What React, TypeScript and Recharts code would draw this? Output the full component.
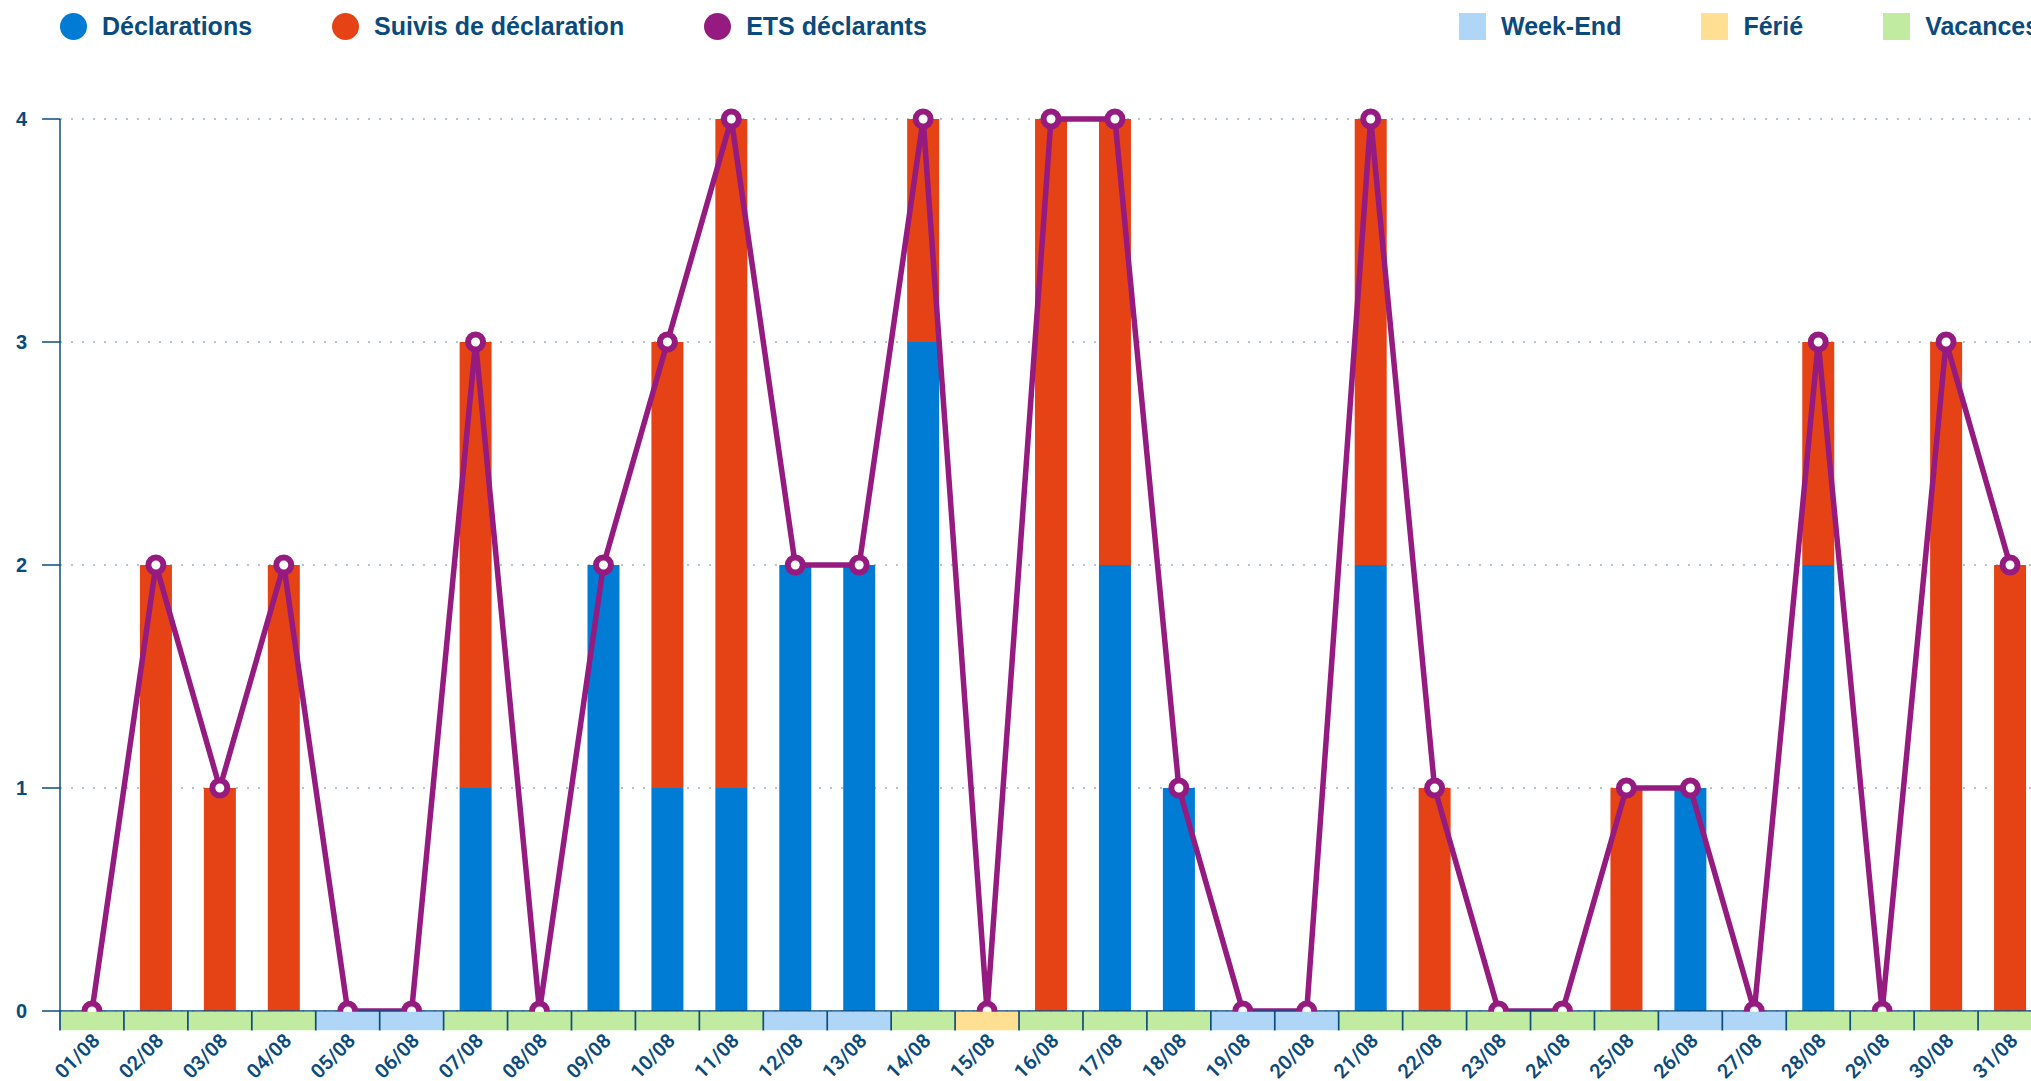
import React from 'react';
import { ComposedChart, Bar, Line, XAxis, YAxis, CartesianGrid, Legend } from 'recharts';

const DAYS = [
  '01/08', '02/08', '03/08', '04/08', '05/08', '06/08', '07/08', '08/08', '09/08', '10/08',
  '11/08', '12/08', '13/08', '14/08', '15/08', '16/08', '17/08', '18/08', '19/08', '20/08',
  '21/08', '22/08', '23/08', '24/08', '25/08', '26/08', '27/08', '28/08', '29/08', '30/08', '31/08',
];
const DECLARATIONS = [0, 0, 0, 0, 0, 0, 1, 0, 2, 1, 1, 2, 2, 3, 0, 0, 2, 1, 0, 0, 2, 0, 0, 0, 0, 1, 0, 2, 0, 0, 0];
const SUIVIS = [0, 2, 1, 2, 0, 0, 2, 0, 0, 2, 3, 0, 0, 1, 0, 4, 2, 0, 0, 0, 2, 1, 0, 0, 1, 0, 0, 1, 0, 3, 2];
const ETS = [0, 2, 1, 2, 0, 0, 3, 0, 2, 3, 4, 2, 2, 4, 0, 4, 4, 1, 0, 0, 4, 1, 0, 0, 1, 1, 0, 3, 0, 3, 2];
// V = Vacances, W = Week-End, F = Férié
const DAY_TYPES = ['V', 'V', 'V', 'V', 'W', 'W', 'V', 'V', 'V', 'V', 'V', 'W', 'W', 'V', 'F', 'V', 'V', 'V', 'W', 'W', 'V', 'V', 'V', 'V', 'V', 'W', 'W', 'V', 'V', 'V', 'V'];
const Y_TICKS = [0, 1, 2, 3, 4];

const BLUE = '#007cd5';
const RED = '#e54315';
const PURPLE = '#951b80';
const TEXT = '#0b4a7c';
const AXIS = '#0d4c7f';
const GRID = '#9db5c7';
const DAY_COLORS: Record<string, string> = { W: '#afd6f7', F: '#ffdf92', V: '#c0eba0' };

const SERIES_LEGEND = [
  { label: 'Déclarations', color: BLUE },
  { label: 'Suivis de déclaration', color: RED },
  { label: 'ETS déclarants', color: PURPLE },
];
const DAYTYPE_LEGEND = [
  { label: 'Week-End', color: DAY_COLORS.W },
  { label: 'Férié', color: DAY_COLORS.F },
  { label: 'Vacances', color: DAY_COLORS.V },
];

const FONT = "'Liberation Sans', Arial, sans-serif";
const CHART_W = 2042;
const CHART_H = 1081;
const Y_AXIS_W = 60;
const BAND = (CHART_W - Y_AXIS_W) / DAYS.length;

const data = DAYS.map((day, i) => ({
  day,
  declarations: DECLARATIONS[i],
  suivis: SUIVIS[i],
  ets: ETS[i],
  type: DAY_TYPES[i],
}));

const DayTick = (props: any) => {
  const { x, y, payload, index } = props;
  const i = typeof index === 'number' ? index : DAYS.indexOf(payload.value);
  const type = DAY_TYPES[i];
  const half = BAND / 2;
  const tx = x + 9;
  const ty = y + 31;
  return (
    <g>
      <rect x={x - half} y={y + 0.75} width={BAND} height={18.5} fill={DAY_COLORS[type]} />
      <line x1={x - half} x2={x - half} y1={y} y2={y + 19.5} stroke={AXIS} strokeWidth={1.7} />
      {i === DAYS.length - 1 && (
        <line x1={x + half} x2={x + half} y1={y} y2={y + 19.5} stroke={AXIS} strokeWidth={1.7} />
      )}
      <text
        x={tx}
        y={ty}
        transform={`rotate(-45 ${tx} ${ty})`}
        textAnchor="end"
        fill={TEXT}
        fontSize={20}
        fontFamily="Roboto, 'Liberation Sans', sans-serif"
        fontWeight={600}
      >
        {payload.value}
      </text>
    </g>
  );
};

const LegendItem = ({ label, color, round }: { label: string; color: string; round: boolean }) => (
  <div style={{ display: 'flex', alignItems: 'center', marginRight: 80 }}>
    <span
      style={{
        display: 'inline-block',
        width: 27,
        height: 27,
        borderRadius: round ? '50%' : 0,
        background: color,
        marginRight: 15,
      }}
    />
    <span>{label}</span>
  </div>
);

const renderLegend = () => (
  <div
    style={{
      position: 'relative',
      width: CHART_W,
      height: 53,
      fontFamily: FONT,
      fontWeight: 700,
      fontSize: 25,
      color: TEXT,
      whiteSpace: 'nowrap',
    }}
  >
    <div style={{ position: 'absolute', left: 60, top: 0, height: 53, display: 'flex', alignItems: 'center' }}>
      {SERIES_LEGEND.map((s) => (
        <LegendItem key={s.label} label={s.label} color={s.color} round />
      ))}
    </div>
    <div style={{ position: 'absolute', left: 1459, top: 0, height: 53, display: 'flex', alignItems: 'center' }}>
      {DAYTYPE_LEGEND.map((s) => (
        <LegendItem key={s.label} label={s.label} color={s.color} round={false} />
      ))}
    </div>
  </div>
);

export default function App() {
  return (
    <div
      style={{
        position: 'absolute',
        left: 0,
        top: 0,
        width: 2031,
        height: 1081,
        overflow: 'hidden',
        background: '#fff',
      }}
    >
      <ComposedChart
        width={CHART_W}
        height={CHART_H}
        data={data}
        margin={{ top: 119, right: 0, left: 0, bottom: 0 }}
        barSize={32}
      >
        <CartesianGrid vertical={false} stroke={GRID} strokeDasharray="2 9" strokeWidth={1.5} />
        <XAxis
          dataKey="day"
          height={70}
          interval={0}
          tick={<DayTick />}
          tickLine={false}
          tickSize={0}
          tickMargin={0}
          axisLine={{ stroke: AXIS, strokeWidth: 1.5 }}
        />
        <YAxis
          width={Y_AXIS_W}
          domain={[0, 4]}
          ticks={Y_TICKS}
          tickSize={18}
          tickMargin={15}
          axisLine={{ stroke: AXIS, strokeWidth: 1.5 }}
          tickLine={{ stroke: AXIS, strokeWidth: 1.5 }}
          tick={{ fill: TEXT, fontSize: 20, fontWeight: 700, fontFamily: FONT }}
          allowDecimals={false}
        />
        <Legend
          verticalAlign="middle"
          layout="horizontal"
          content={renderLegend}
          wrapperStyle={{ top: 0, left: 0, width: CHART_W, height: 53 }}
        />
        <Bar dataKey="declarations" stackId="a" fill={BLUE} isAnimationActive={false} />
        <Bar dataKey="suivis" stackId="a" fill={RED} isAnimationActive={false} />
        <Line
          type="linear"
          dataKey="ets"
          stroke={PURPLE}
          strokeWidth={5.5}
          dot={{ r: 7.5, fill: '#fff', stroke: PURPLE, strokeWidth: 6 }}
          activeDot={false}
          isAnimationActive={false}
        />
      </ComposedChart>
    </div>
  );
}
